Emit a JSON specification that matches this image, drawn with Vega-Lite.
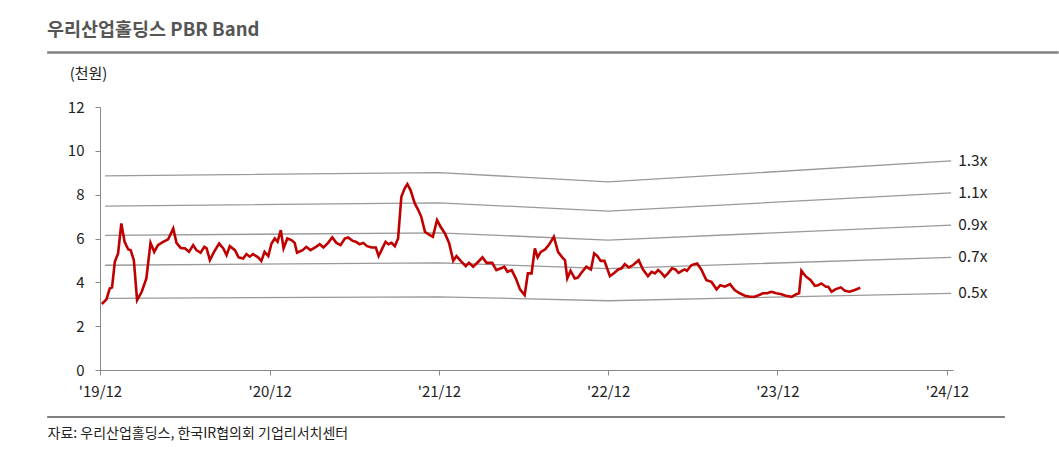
{
  "$schema": "https://vega.github.io/schema/vega-lite/v6.json",
  "autosize": {"type": "none"},
  "padding": {"left": 100, "top": 107, "right": 106, "bottom": 81},
  "width": 853,
  "height": 263,
  "title": {
    "text": "우리산업홀딩스 PBR Band",
    "anchor": "start",
    "frame": "group",
    "dx": -53,
    "offset": 12,
    "font": "Noto Sans CJK KR",
    "fontSize": 18.5,
    "fontWeight": "bold",
    "color": "#555555"
  },
  "config": {
    "view": {"stroke": null},
    "font": "Noto Sans CJK KR"
  },
  "datasets": {
    "price": [
      {"date": "2019-12-05", "price": 3.01},
      {"date": "2019-12-15", "price": 3.22},
      {"date": "2019-12-22", "price": 3.72},
      {"date": "2019-12-27", "price": 3.77},
      {"date": "2020-01-02", "price": 4.94},
      {"date": "2020-01-09", "price": 5.32},
      {"date": "2020-01-16", "price": 6.69},
      {"date": "2020-01-23", "price": 5.85},
      {"date": "2020-01-31", "price": 5.50},
      {"date": "2020-02-05", "price": 5.47},
      {"date": "2020-02-12", "price": 5.01},
      {"date": "2020-02-19", "price": 3.19},
      {"date": "2020-02-29", "price": 3.57},
      {"date": "2020-03-10", "price": 4.18},
      {"date": "2020-03-19", "price": 5.80},
      {"date": "2020-03-27", "price": 5.39},
      {"date": "2020-04-04", "price": 5.70},
      {"date": "2020-04-15", "price": 5.85},
      {"date": "2020-04-26", "price": 5.96},
      {"date": "2020-05-07", "price": 6.46},
      {"date": "2020-05-14", "price": 5.80},
      {"date": "2020-05-23", "price": 5.57},
      {"date": "2020-06-01", "price": 5.55},
      {"date": "2020-06-10", "price": 5.39},
      {"date": "2020-06-19", "price": 5.70},
      {"date": "2020-06-26", "price": 5.47},
      {"date": "2020-07-05", "price": 5.35},
      {"date": "2020-07-13", "price": 5.62},
      {"date": "2020-07-18", "price": 5.55},
      {"date": "2020-07-25", "price": 5.01},
      {"date": "2020-08-03", "price": 5.39},
      {"date": "2020-08-14", "price": 5.77},
      {"date": "2020-08-23", "price": 5.55},
      {"date": "2020-08-30", "price": 5.24},
      {"date": "2020-09-06", "price": 5.65},
      {"date": "2020-09-17", "price": 5.47},
      {"date": "2020-09-25", "price": 5.14},
      {"date": "2020-10-05", "price": 5.09},
      {"date": "2020-10-12", "price": 5.29},
      {"date": "2020-10-19", "price": 5.17},
      {"date": "2020-10-26", "price": 5.29},
      {"date": "2020-11-06", "price": 5.14},
      {"date": "2020-11-13", "price": 4.97},
      {"date": "2020-11-20", "price": 5.39},
      {"date": "2020-11-28", "price": 5.20},
      {"date": "2020-12-05", "price": 5.77},
      {"date": "2020-12-12", "price": 6.00},
      {"date": "2020-12-18", "price": 5.85},
      {"date": "2020-12-25", "price": 6.38},
      {"date": "2020-12-31", "price": 5.55},
      {"date": "2021-01-08", "price": 6.00},
      {"date": "2021-01-17", "price": 5.93},
      {"date": "2021-01-24", "price": 5.80},
      {"date": "2021-01-29", "price": 5.35},
      {"date": "2021-02-10", "price": 5.47},
      {"date": "2021-02-18", "price": 5.62},
      {"date": "2021-02-27", "price": 5.47},
      {"date": "2021-03-11", "price": 5.62},
      {"date": "2021-03-19", "price": 5.74},
      {"date": "2021-03-27", "price": 5.59},
      {"date": "2021-04-06", "price": 5.80},
      {"date": "2021-04-15", "price": 6.05},
      {"date": "2021-04-24", "price": 5.80},
      {"date": "2021-05-03", "price": 5.70},
      {"date": "2021-05-12", "price": 6.00},
      {"date": "2021-05-19", "price": 6.05},
      {"date": "2021-05-29", "price": 5.89},
      {"date": "2021-06-05", "price": 5.85},
      {"date": "2021-06-13", "price": 5.74},
      {"date": "2021-06-21", "price": 5.80},
      {"date": "2021-06-29", "price": 5.65},
      {"date": "2021-07-09", "price": 5.59},
      {"date": "2021-07-18", "price": 5.59},
      {"date": "2021-07-24", "price": 5.20},
      {"date": "2021-08-01", "price": 5.55},
      {"date": "2021-08-08", "price": 5.85},
      {"date": "2021-08-14", "price": 5.74},
      {"date": "2021-08-21", "price": 5.80},
      {"date": "2021-08-28", "price": 5.65},
      {"date": "2021-09-04", "price": 6.00},
      {"date": "2021-09-11", "price": 7.90},
      {"date": "2021-09-18", "price": 8.28},
      {"date": "2021-09-24", "price": 8.48},
      {"date": "2021-10-01", "price": 8.20},
      {"date": "2021-10-10", "price": 7.60},
      {"date": "2021-10-17", "price": 7.32},
      {"date": "2021-10-24", "price": 6.99},
      {"date": "2021-11-01", "price": 6.30},
      {"date": "2021-11-10", "price": 6.18},
      {"date": "2021-11-18", "price": 6.08},
      {"date": "2021-11-27", "price": 6.84},
      {"date": "2021-12-04", "price": 6.56},
      {"date": "2021-12-14", "price": 6.23},
      {"date": "2021-12-23", "price": 5.80},
      {"date": "2022-01-01", "price": 4.98},
      {"date": "2022-01-08", "price": 5.20},
      {"date": "2022-01-17", "price": 4.98},
      {"date": "2022-01-28", "price": 4.74},
      {"date": "2022-02-04", "price": 4.89},
      {"date": "2022-02-13", "price": 4.71},
      {"date": "2022-02-24", "price": 4.94},
      {"date": "2022-03-05", "price": 5.14},
      {"date": "2022-03-14", "price": 4.89},
      {"date": "2022-03-21", "price": 4.89},
      {"date": "2022-03-26", "price": 4.89},
      {"date": "2022-04-04", "price": 4.56},
      {"date": "2022-04-14", "price": 4.64},
      {"date": "2022-04-21", "price": 4.71},
      {"date": "2022-04-28", "price": 4.48},
      {"date": "2022-05-07", "price": 4.56},
      {"date": "2022-05-16", "price": 4.18},
      {"date": "2022-05-25", "price": 3.68},
      {"date": "2022-06-04", "price": 3.42},
      {"date": "2022-06-11", "price": 4.41},
      {"date": "2022-06-19", "price": 4.41},
      {"date": "2022-06-26", "price": 5.55},
      {"date": "2022-07-02", "price": 5.14},
      {"date": "2022-07-09", "price": 5.39},
      {"date": "2022-07-18", "price": 5.50},
      {"date": "2022-07-26", "price": 5.70},
      {"date": "2022-08-06", "price": 6.08},
      {"date": "2022-08-15", "price": 5.39},
      {"date": "2022-08-24", "price": 5.14},
      {"date": "2022-08-30", "price": 5.01},
      {"date": "2022-09-04", "price": 4.18},
      {"date": "2022-09-11", "price": 4.53},
      {"date": "2022-09-20", "price": 4.18},
      {"date": "2022-09-27", "price": 4.22},
      {"date": "2022-10-06", "price": 4.48},
      {"date": "2022-10-15", "price": 4.71},
      {"date": "2022-10-25", "price": 4.59},
      {"date": "2022-11-01", "price": 5.32},
      {"date": "2022-11-08", "price": 5.20},
      {"date": "2022-11-15", "price": 4.98},
      {"date": "2022-11-23", "price": 4.98},
      {"date": "2022-12-05", "price": 4.28},
      {"date": "2022-12-14", "price": 4.43},
      {"date": "2022-12-23", "price": 4.59},
      {"date": "2022-12-30", "price": 4.64},
      {"date": "2023-01-06", "price": 4.83},
      {"date": "2023-01-15", "price": 4.68},
      {"date": "2023-01-24", "price": 4.79},
      {"date": "2023-02-05", "price": 5.01},
      {"date": "2023-02-14", "price": 4.59},
      {"date": "2023-02-25", "price": 4.28},
      {"date": "2023-03-05", "price": 4.48},
      {"date": "2023-03-12", "price": 4.41},
      {"date": "2023-03-19", "price": 4.56},
      {"date": "2023-03-27", "price": 4.41},
      {"date": "2023-04-02", "price": 4.25},
      {"date": "2023-04-09", "price": 4.41},
      {"date": "2023-04-18", "price": 4.64},
      {"date": "2023-04-25", "price": 4.59},
      {"date": "2023-05-02", "price": 4.43},
      {"date": "2023-05-10", "price": 4.53},
      {"date": "2023-05-15", "price": 4.59},
      {"date": "2023-05-20", "price": 4.53},
      {"date": "2023-05-30", "price": 4.79},
      {"date": "2023-06-11", "price": 4.86},
      {"date": "2023-06-20", "price": 4.59},
      {"date": "2023-07-01", "price": 4.10},
      {"date": "2023-07-12", "price": 4.02},
      {"date": "2023-07-23", "price": 3.68},
      {"date": "2023-07-31", "price": 3.87},
      {"date": "2023-08-10", "price": 3.80},
      {"date": "2023-08-21", "price": 3.92},
      {"date": "2023-08-31", "price": 3.65},
      {"date": "2023-09-11", "price": 3.50},
      {"date": "2023-09-22", "price": 3.39},
      {"date": "2023-10-03", "price": 3.34},
      {"date": "2023-10-13", "price": 3.34},
      {"date": "2023-10-23", "price": 3.42},
      {"date": "2023-10-31", "price": 3.50},
      {"date": "2023-11-09", "price": 3.50},
      {"date": "2023-11-18", "price": 3.57},
      {"date": "2023-11-29", "price": 3.50},
      {"date": "2023-12-10", "price": 3.46},
      {"date": "2023-12-19", "price": 3.39},
      {"date": "2024-01-01", "price": 3.34},
      {"date": "2024-01-11", "price": 3.46},
      {"date": "2024-01-17", "price": 3.50},
      {"date": "2024-01-22", "price": 4.53},
      {"date": "2024-01-31", "price": 4.28},
      {"date": "2024-02-11", "price": 4.10},
      {"date": "2024-02-20", "price": 3.84},
      {"date": "2024-02-27", "price": 3.87},
      {"date": "2024-03-05", "price": 3.95},
      {"date": "2024-03-15", "price": 3.80},
      {"date": "2024-03-20", "price": 3.80},
      {"date": "2024-03-27", "price": 3.57},
      {"date": "2024-04-04", "price": 3.68},
      {"date": "2024-04-16", "price": 3.77},
      {"date": "2024-04-25", "price": 3.61},
      {"date": "2024-05-05", "price": 3.57},
      {"date": "2024-05-16", "price": 3.65},
      {"date": "2024-05-28", "price": 3.75}
    ],
    "bands": [
      {"band": "1.3x", "date": "2019-12-12", "value": 8.86},
      {"band": "1.3x", "date": "2021-12-01", "value": 9.01},
      {"band": "1.3x", "date": "2022-12-01", "value": 8.58},
      {"band": "1.3x", "date": "2024-12-10", "value": 9.54},
      {"band": "1.1x", "date": "2019-12-12", "value": 7.48},
      {"band": "1.1x", "date": "2021-12-01", "value": 7.63},
      {"band": "1.1x", "date": "2022-12-01", "value": 7.25},
      {"band": "1.1x", "date": "2024-12-10", "value": 8.08},
      {"band": "0.9x", "date": "2019-12-12", "value": 6.14},
      {"band": "0.9x", "date": "2021-12-01", "value": 6.26},
      {"band": "0.9x", "date": "2022-12-01", "value": 5.93},
      {"band": "0.9x", "date": "2024-12-10", "value": 6.61},
      {"band": "0.7x", "date": "2019-12-12", "value": 4.78},
      {"band": "0.7x", "date": "2021-12-01", "value": 4.89},
      {"band": "0.7x", "date": "2022-12-01", "value": 4.63},
      {"band": "0.7x", "date": "2024-12-10", "value": 5.14},
      {"band": "0.5x", "date": "2019-12-12", "value": 3.27},
      {"band": "0.5x", "date": "2021-12-01", "value": 3.34},
      {"band": "0.5x", "date": "2022-12-01", "value": 3.16},
      {"band": "0.5x", "date": "2024-12-10", "value": 3.50}
    ],
    "frame": [
      {"edge": "top"}
    ]
  },
  "layer": [
    {
      "data": {"name": "bands"},
      "mark": {"type": "line", "color": "#999999", "strokeWidth": 1.3},
      "encoding": {
        "x": {
          "field": "date",
          "type": "temporal",
          "scale": {"domain": [{"year": 2019, "month": 12, "date": 1}, {"year": 2024, "month": 12, "date": 14}]},
          "axis": {
            "values": [
              {"year": 2019, "month": 12, "date": 1},
              {"year": 2020, "month": 12, "date": 1},
              {"year": 2021, "month": 12, "date": 1},
              {"year": 2022, "month": 12, "date": 1},
              {"year": 2023, "month": 12, "date": 1},
              {"year": 2024, "month": 12, "date": 1}
            ],
            "labelExpr": "\"'\" + timeFormat(datum.value, '%y/%m')",
            "grid": false,
            "domainColor": "#888888",
            "tickColor": "#888888",
            "tickSize": 5,
            "labelFontSize": 15,
            "labelColor": "#222222",
            "labelPadding": 9,
            "labelFlush": false,
            "title": "자료: 우리산업홀딩스, 한국IR협의회 기업리서치센터",
            "titleFontSize": 14,
            "titleFontWeight": "normal",
            "titleColor": "#222222",
            "titleAnchor": "start",
            "titleAlign": "left",
            "titleBaseline": "middle",
            "titleX": -53,
            "titleY": 63
          }
        },
        "y": {
          "field": "value",
          "type": "quantitative",
          "scale": {"domain": [0, 12]},
          "axis": {
            "values": [0, 2, 4, 6, 8, 10, 12],
            "grid": false,
            "domainColor": "#888888",
            "tickColor": "#888888",
            "tickSize": 5,
            "labelFontSize": 15,
            "labelColor": "#222222",
            "labelPadding": 11,
            "title": "(천원)",
            "titleFontSize": 15,
            "titleFontWeight": "normal",
            "titleColor": "#222222",
            "titleAngle": 0,
            "titleAlign": "center",
            "titleBaseline": "middle",
            "titleX": -12,
            "titleY": -34
          }
        },
        "detail": {"field": "band", "type": "nominal"}
      }
    },
    {
      "data": {"name": "bands"},
      "transform": [
        {"filter": {"field": "date", "timeUnit": "yearmonthdate", "equal": {"year": 2024, "month": 12, "date": 10}}}
      ],
      "mark": {"type": "text", "align": "left", "baseline": "middle", "dx": 7, "fontSize": 15.5, "color": "#222222"},
      "encoding": {
        "x": {"field": "date", "type": "temporal"},
        "y": {"field": "value", "type": "quantitative"},
        "text": {"field": "band", "type": "nominal"}
      }
    },
    {
      "data": {"name": "price"},
      "mark": {"type": "line", "color": "#C00000", "strokeWidth": 2.6},
      "encoding": {
        "x": {"field": "date", "type": "temporal"},
        "y": {"field": "price", "type": "quantitative"}
      }
    },
    {
      "data": {"name": "frame"},
      "mark": {"type": "rule", "color": "#808080", "strokeWidth": 2.5},
      "encoding": {
        "x": {"datum": {"year": 2019, "month": 8, "date": 9}, "type": "temporal"},
        "x2": {"datum": {"year": 2025, "month": 7, "date": 30}},
        "y": {"datum": 14.49}
      }
    },
    {
      "data": {"name": "frame"},
      "mark": {"type": "rule", "color": "#808080", "strokeWidth": 2},
      "encoding": {
        "x": {"datum": {"year": 2019, "month": 8, "date": 9}, "type": "temporal"},
        "x2": {"datum": {"year": 2025, "month": 4, "date": 5}},
        "y": {"datum": -2.14}
      }
    }
  ]
}
